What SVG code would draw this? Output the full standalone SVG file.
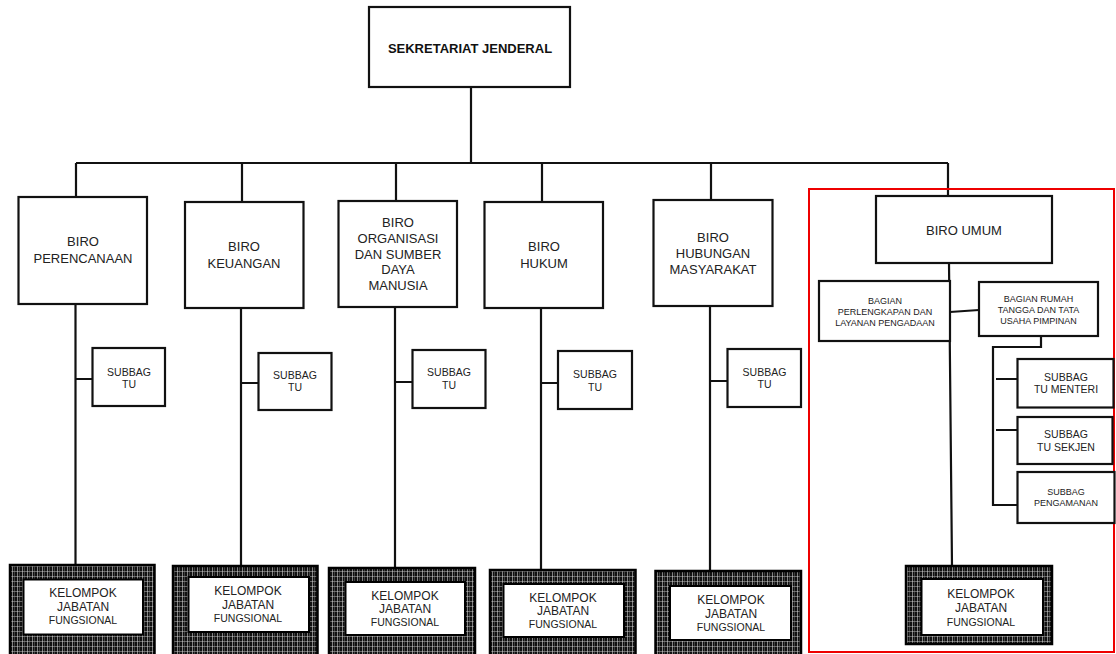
<svg xmlns="http://www.w3.org/2000/svg" width="1116" height="654" viewBox="0 0 1116 654">
<defs>
<pattern id="hatch" width="5" height="5" patternUnits="userSpaceOnUse">
<rect width="5" height="5" fill="#111"/>
<rect x="0" y="1" width="5" height="1" fill="#bbb" opacity="0.5"/>
<rect x="2" y="0" width="1" height="5" fill="#ddd" opacity="0.55"/>
<rect x="4" y="0" width="1" height="5" fill="#999" opacity="0.35"/>
</pattern>
<style>
.box{fill:#fff;stroke:#111;stroke-width:2.2}
.ln{fill:none;stroke:#111;stroke-width:2.2}
.frame{fill:url(#hatch);stroke:#000;stroke-width:2.5}
.inner{fill:#fff;stroke:#000;stroke-width:2}
text{font-family:"Liberation Sans",Arial,sans-serif;fill:#222;text-anchor:middle}
.t13{font-size:13px}
.b13{font-size:13px;font-weight:bold;fill:#111}
.t12{font-size:12px}
.t105{font-size:10.5px}
.t9{font-size:9px}
</style>
</defs>
<rect width="1116" height="654" fill="#fff"/>

<g id="connectors">
<path class="ln" d="M471 87 V163 M76 163 H948 M76 163 V197 M242 163 V202 M396 163 V201 M542 163 V202 M711 163 V200 M948 163 V196"/>
<path class="ln" d="M75.5 304 V566 M75.5 379 H93"/>
<path class="ln" d="M241 308 V567 M241 383 H259"/>
<path class="ln" d="M395 307 V569 M395 382 H413"/>
<path class="ln" d="M541 308 V571 M541 383 H558"/>
<path class="ln" d="M710 306 V572 M710 381 H728"/>
<path class="ln" d="M949 263 L952 566 M950 312 L979 310"/>
<path class="ln" d="M1041 336 V347 H993 V505 H1017 M996 379 H1017 M996 430 H1017"/>
</g>

<rect x="809" y="189" width="305" height="463" fill="none" stroke="#e00" stroke-width="2"/>

<g id="sekjen">
<rect class="box" x="369" y="7" width="201" height="80"/>
<text class="b13" x="470" y="53">SEKRETARIAT JENDERAL</text>
</g>

<g id="biro-perencanaan">
<rect class="box" x="18.5" y="197" width="128.5" height="107"/>
<text class="t13" x="83" y="246">BIRO</text>
<text class="t13" x="83" y="263">PERENCANAAN</text>
</g>
<g id="biro-keuangan">
<rect class="box" x="185" y="202" width="118.5" height="106"/>
<text class="t13" x="244" y="251">BIRO</text>
<text class="t13" x="244" y="268">KEUANGAN</text>
</g>
<g id="biro-organisasi">
<rect class="box" x="338.5" y="201" width="118.5" height="106"/>
<text class="t13" x="398" y="227">BIRO</text>
<text class="t13" x="398" y="243">ORGANISASI</text>
<text class="t13" x="398" y="259">DAN SUMBER</text>
<text class="t13" x="398" y="274">DAYA</text>
<text class="t13" x="398" y="290">MANUSIA</text>
</g>
<g id="biro-hukum">
<rect class="box" x="484.5" y="202" width="118.5" height="106"/>
<text class="t13" x="544" y="251">BIRO</text>
<text class="t13" x="544" y="268">HUKUM</text>
</g>
<g id="biro-humas">
<rect class="box" x="653.5" y="200" width="119" height="106"/>
<text class="t13" x="713" y="242">BIRO</text>
<text class="t13" x="713" y="258">HUBUNGAN</text>
<text class="t13" x="713" y="274">MASYARAKAT</text>
</g>
<g id="biro-umum">
<rect class="box" x="876" y="196" width="176" height="67"/>
<text class="t13" x="964" y="235">BIRO UMUM</text>
</g>

<g id="subbag-tu-1">
<rect class="box" x="92.5" y="348" width="72.5" height="58"/>
<text class="t105" x="129" y="376">SUBBAG</text>
<text class="t105" x="129" y="388">TU</text>
</g>
<g id="subbag-tu-2">
<rect class="box" x="258.5" y="353" width="73" height="57"/>
<text class="t105" x="295" y="379">SUBBAG</text>
<text class="t105" x="295" y="391">TU</text>
</g>
<g id="subbag-tu-3">
<rect class="box" x="412.5" y="350" width="73" height="58"/>
<text class="t105" x="449" y="376">SUBBAG</text>
<text class="t105" x="449" y="389">TU</text>
</g>
<g id="subbag-tu-4">
<rect class="box" x="558" y="351" width="74" height="58"/>
<text class="t105" x="595" y="378">SUBBAG</text>
<text class="t105" x="595" y="391">TU</text>
</g>
<g id="subbag-tu-5">
<rect class="box" x="727.5" y="349" width="73.5" height="58"/>
<text class="t105" x="764.5" y="376">SUBBAG</text>
<text class="t105" x="764.5" y="388">TU</text>
</g>

<g id="bagian-perlengkapan">
<rect class="box" x="819" y="281" width="131" height="60"/>
<text class="t9" x="885" y="304">BAGIAN</text>
<text class="t9" x="885" y="315">PERLENGKAPAN DAN</text>
<text class="t9" x="885" y="326">LAYANAN PENGADAAN</text>
</g>
<g id="bagian-rumah-tangga">
<rect class="box" x="979" y="282" width="119" height="54"/>
<text class="t9" x="1038.5" y="302">BAGIAN RUMAH</text>
<text class="t9" x="1038.5" y="313">TANGGA DAN TATA</text>
<text class="t9" x="1038.5" y="324">USAHA PIMPINAN</text>
</g>
<g id="subbag-tu-menteri">
<rect class="box" x="1017.5" y="359" width="96" height="48.5"/>
<text class="t105" x="1066" y="381">SUBBAG</text>
<text class="t105" x="1066" y="393">TU MENTERI</text>
</g>
<g id="subbag-tu-sekjen">
<rect class="box" x="1017.5" y="417" width="95" height="47"/>
<text class="t105" x="1066" y="438">SUBBAG</text>
<text class="t105" x="1066" y="451">TU SEKJEN</text>
</g>
<g id="subbag-pengamanan">
<rect class="box" x="1017.5" y="472" width="97" height="51"/>
<text class="t9" x="1066" y="495">SUBBAG</text>
<text class="t9" x="1066" y="506">PENGAMANAN</text>
</g>

<g id="kjf-1">
<rect class="frame" x="10" y="565" width="144.5" height="95"/>
<rect class="inner" x="23.5" y="579.5" width="119.5" height="55"/>
<text class="t12" x="83" y="597">KELOMPOK</text>
<text class="t12" x="83" y="611">JABATAN</text>
<text class="t105" x="83" y="624">FUNGSIONAL</text>
</g>
<g id="kjf-2">
<rect class="frame" x="173" y="566" width="144.5" height="95"/>
<rect class="inner" x="188.5" y="577" width="120.5" height="55"/>
<text class="t12" x="248" y="595">KELOMPOK</text>
<text class="t12" x="248" y="609">JABATAN</text>
<text class="t105" x="248" y="622">FUNGSIONAL</text>
</g>
<g id="kjf-3">
<rect class="frame" x="329" y="568" width="146" height="95"/>
<rect class="inner" x="345.5" y="582" width="119.5" height="53"/>
<text class="t12" x="405" y="600">KELOMPOK</text>
<text class="t12" x="405" y="613">JABATAN</text>
<text class="t105" x="405" y="626">FUNGSIONAL</text>
</g>
<g id="kjf-4">
<rect class="frame" x="490" y="570" width="145.5" height="95"/>
<rect class="inner" x="503.5" y="584" width="120.5" height="53"/>
<text class="t12" x="563" y="602">KELOMPOK</text>
<text class="t12" x="563" y="615">JABATAN</text>
<text class="t105" x="563" y="628">FUNGSIONAL</text>
</g>
<g id="kjf-5">
<rect class="frame" x="655.5" y="571" width="145.5" height="95"/>
<rect class="inner" x="670" y="586" width="121" height="54"/>
<text class="t12" x="731" y="604">KELOMPOK</text>
<text class="t12" x="731" y="618">JABATAN</text>
<text class="t105" x="731" y="631">FUNGSIONAL</text>
</g>
<g id="kjf-umum">
<rect class="frame" x="906" y="566" width="146" height="78"/>
<rect class="inner" x="921.5" y="579" width="121.5" height="56"/>
<text class="t12" x="981" y="598">KELOMPOK</text>
<text class="t12" x="981" y="612">JABATAN</text>
<text class="t105" x="981" y="626">FUNGSIONAL</text>
</g>
</svg>
